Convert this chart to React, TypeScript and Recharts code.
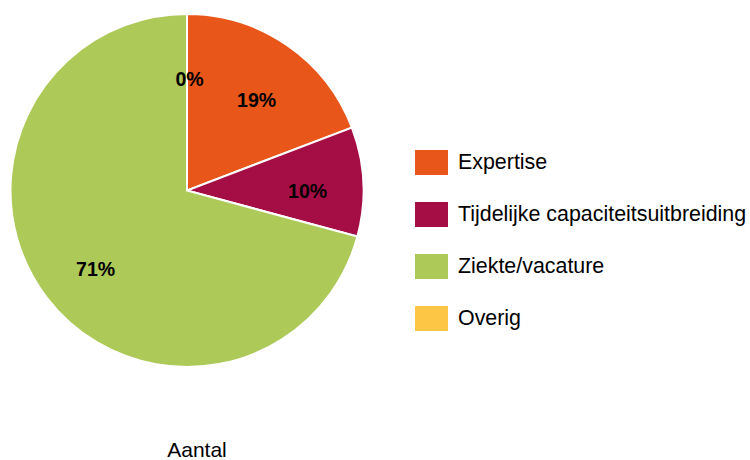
import React from "react";
import { PieChart, Pie, Cell, Legend } from "recharts";

const categories = ["Expertise", "Tijdelijke capaciteitsuitbreiding", "Ziekte/vacature", "Overig"];
const values = [19.2, 10.0, 70.8, 0];
const colors = ["#E8561A", "#A50E45", "#ADC957", "#FDC745"];
const title = "Aantal";

const data = categories.map((name, i) => ({ name, value: values[i] }));
const total = values.reduce((a, b) => a + b, 0);
const RAD = Math.PI / 180;
const FONT = "'Liberation Sans', Arial, sans-serif";

const renderLabel = (props: any) => {
  const { cx, cy, midAngle, outerRadius, value } = props;
  const r = outerRadius * 0.67;
  const x = cx + r * Math.cos(-midAngle * RAD) + 2.5;
  const y = cy + r * Math.sin(-midAngle * RAD) + 6.5;
  return (
    <text
      x={x}
      y={y}
      textAnchor="middle"
      dominantBaseline="central"
      fill="#000"
      fontFamily={FONT}
      fontWeight="bold"
      fontSize={19.5}
    >
      {Math.round((value / total) * 100) + "%"}
    </text>
  );
};

const renderLegend = () => (
  <div style={{ fontFamily: FONT, fontSize: 21.4, color: "#000" }}>
    {categories.map((c, i) => (
      <div key={c} style={{ display: "flex", alignItems: "center", height: 25, marginBottom: 27 }}>
        <div style={{ width: 33, height: 25, background: colors[i], marginRight: 10, flexShrink: 0 }} />
        <span style={{ whiteSpace: "nowrap", lineHeight: "25px" }}>{c}</span>
      </div>
    ))}
  </div>
);

export default function App() {
  return (
    <div style={{ position: "absolute", left: 0, top: 0, width: 750, height: 460, background: "#fff" }}>
      <PieChart width={750} height={460} margin={{ top: 0, right: 0, bottom: 0, left: 0 }}>
        <Pie
          data={data}
          dataKey="value"
          nameKey="name"
          cx={187}
          cy={190.5}
          outerRadius={176.5}
          startAngle={90}
          endAngle={-270}
          stroke="#fff"
          strokeWidth={2}
          label={renderLabel}
          labelLine={false}
          isAnimationActive={false}
        >
          {data.map((d, i) => (
            <Cell key={d.name} fill={colors[i]} />
          ))}
        </Pie>
        <Legend
          content={renderLegend}
          wrapperStyle={{ position: "absolute", left: 415, top: 150, width: 335 }}
        />
      </PieChart>
      <div
        style={{
          position: "absolute",
          left: 97,
          width: 200,
          top: 438,
          textAlign: "center",
          fontFamily: FONT,
          fontSize: 21,
          color: "#000",
        }}
      >
        {title}
      </div>
    </div>
  );
}
